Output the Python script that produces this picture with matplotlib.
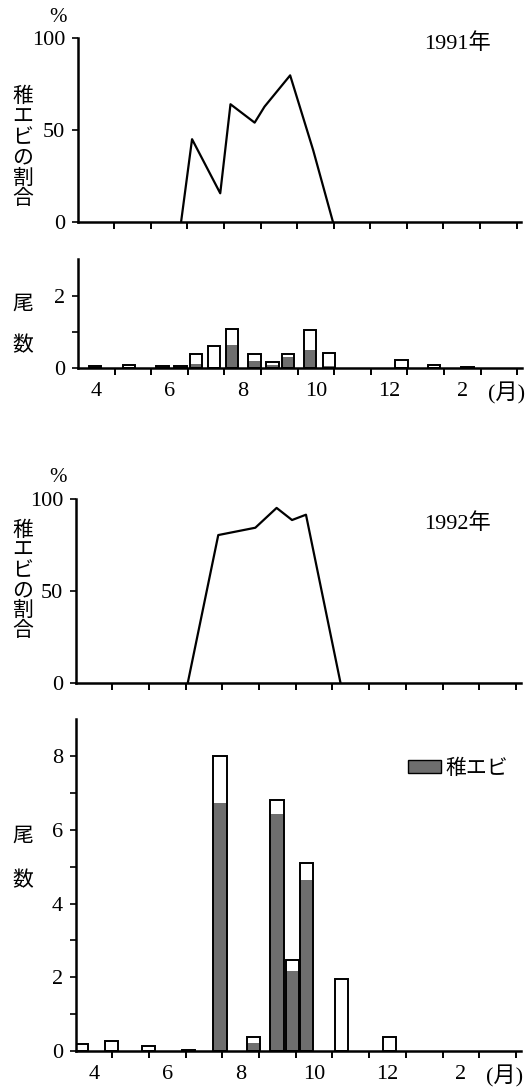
import matplotlib
matplotlib.use("Agg")
import matplotlib.pyplot as plt
from matplotlib.patches import Patch

plt.rcParams['font.family'] = ['Liberation Serif', 'Noto Sans CJK JP', 'DejaVu Sans']

# ---------------- data (x = months since 1 April) ----------------
x_labels = ['4', '6', '8', '10', '12', '2', '(月)']
x_label_pos = [0.5, 2.5, 4.5, 6.5, 8.5, 10.5, 11.7]

pct91_x = [2.83, 3.13, 3.90, 4.18, 4.84, 5.11, 5.81, 6.44, 6.98]
pct91_y = [0, 45, 15.6, 64, 54, 62.7, 79.7, 39, 0]

bar91_x = [0.46, 1.40, 2.31, 2.80, 3.22, 3.71, 4.21, 4.82, 5.31, 5.74, 6.34, 6.86, 8.84, 9.73, 10.64]
bar91_total = [0.05, 0.10, 0.05, 0.07, 0.39, 0.60, 1.08, 0.39, 0.17, 0.39, 1.06, 0.43, 0.23, 0.10, 0.03]
bar91_juv = [0.03, 0, 0.02, 0, 0.11, 0.04, 0.63, 0.20, 0.09, 0.32, 0.51, 0.05, 0, 0, 0]

pct92_x = [3.06, 3.89, 4.90, 5.48, 5.90, 6.28, 7.22]
pct92_y = [0, 80.5, 84.5, 95.3, 88.7, 91.6, 0]

bar92_x = [0.16, 0.99, 1.99, 3.08, 3.94, 4.84, 5.49, 5.91, 6.29, 7.25, 8.56]
bar92_total = [0.19, 0.27, 0.14, 0.04, 8.0, 0.39, 6.8, 2.48, 5.09, 1.96, 0.39]
bar92_juv = [0, 0, 0, 0, 6.73, 0.23, 6.42, 2.18, 4.63, 0, 0]

GREY = '#6e6e6e'
W, H = 529, 1088
fig = plt.figure(figsize=(W / 100, H / 100), dpi=100)


def add_ax(x0, ytop, ybot, scale):
    xmax = 12.13
    return fig.add_axes([x0 / W, 1 - ybot / H, xmax * scale / W, (ybot - ytop) / H]), xmax


def style(ax, xmax, ymax, labels):
    ax.set_xlim(0, xmax)
    ax.set_ylim(0, ymax)
    for s in ('top', 'right'):
        ax.spines[s].set_visible(False)
    for s in ('left', 'bottom'):
        ax.spines[s].set_linewidth(1.8)
    ax.set_xticks(range(1, 13))
    ax.set_xticklabels([])
    ax.tick_params(axis='x', which='major', direction='out', length=5, width=1.4)
    ax.tick_params(axis='y', which='both', direction='out', length=4, width=1.2,
                   pad=5, labelsize=16)
    if labels:
        ax.set_xticks(x_label_pos, minor=True)
        ax.set_xticklabels(x_labels, minor=True)
        ax.tick_params(axis='x', which='minor', length=0, pad=10, labelsize=16)


def vlabel(chars, x, ys):
    for c, y in zip(chars, ys):
        fig.text(x / W, 1 - y / H, c, ha='center', va='center', fontsize=15,
                 family=['Noto Sans CJK JP'])


# ---- panel 1: 1991 percentage ----
ax1, xm = add_ax(77.5, 38, 222, 36.6)
ax1.plot(pct91_x, pct91_y, color='black', lw=1.6)
style(ax1, xm, 100, False)
ax1.set_yticks([0, 50, 100])
ax1.text(0.855, 0.97, '1991年', transform=ax1.transAxes, ha='center', va='center', fontsize=16)

# ---- panel 2: 1991 counts ----
ax2, xm = add_ax(78, 259.3, 368.3, 36.6)
ax2.bar(bar91_x, bar91_juv, width=0.34, color=GREY, lw=0)
ax2.bar(bar91_x, bar91_total, width=0.34, facecolor='none', edgecolor='black', lw=1.4)
style(ax2, xm, 3, True)
ax2.set_yticks([0, 2])
ax2.set_yticks([1], minor=True)

# ---- panel 3: 1992 percentage ----
ax3, xm = add_ax(75.5, 499.3, 682.7, 36.7)
ax3.plot(pct92_x, pct92_y, color='black', lw=1.6)
style(ax3, xm, 100, False)
ax3.set_yticks([0, 50, 100])
ax3.text(0.857, 0.87, '1992年', transform=ax3.transAxes, ha='center', va='center', fontsize=16)

# ---- panel 4: 1992 counts ----
ax4, xm = add_ax(75.5, 719.3, 1051, 36.7)
ax4.bar(bar92_x, bar92_juv, width=0.36, color=GREY, lw=0)
ax4.bar(bar92_x, bar92_total, width=0.36, facecolor='none', edgecolor='black', lw=1.4)
style(ax4, xm, 9, True)
ax4.set_yticks([0, 2, 4, 6, 8])
ax4.set_yticks([1, 3, 5, 7], minor=True)
handle = Patch(facecolor=GREY, edgecolor='black', lw=1.0, label='稚エビ')
ax4.legend(handles=[handle], loc='center left', bbox_to_anchor=(408 / W, 1 - 768 / H),
           bbox_transform=fig.transFigure, frameon=False,
           handlelength=1.6, handleheight=0.6, handletextpad=0.2, borderpad=0,
           borderaxespad=0, prop={'family': ['Noto Sans CJK JP'], 'size': 15})

# ---- side labels ----
vlabel('稚エビの割合', 23, [96, 116.5, 137, 157, 177.5, 198])
vlabel('尾数', 23, [304, 345])
vlabel('稚エビの割合', 23, [530, 550, 570, 590, 610, 630])
vlabel('尾数', 23, [836, 880])
fig.text(58 / W, 1 - 17 / H, '%', ha='center', va='center', fontsize=15)
fig.text(58 / W, 1 - 477 / H, '%', ha='center', va='center', fontsize=15)

fig.savefig('out.png', dpi=100)
